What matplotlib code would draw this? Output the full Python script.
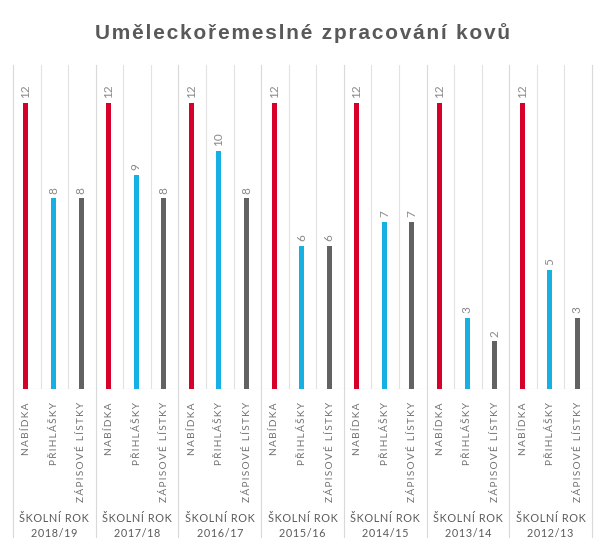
import matplotlib.pyplot as plt
import numpy as np

years = ["2018/19", "2017/18", "2016/17", "2015/16", "2014/15", "2013/14", "2012/13"]
series = ["NABÍDKA", "PŘIHLÁŠKY", "ZÁPISOVÉ LÍSTKY"]
nabidka = [12, 12, 12, 12, 12, 12, 12]
prihlasky = [8, 9, 10, 6, 7, 3, 5]
zapisove = [8, 8, 8, 6, 7, 2, 3]
colors = ["#d6002a", "#17b0e3", "#626262"]

def spaced(s, sp="\u200a"):
    return sp.join(s)

fig = plt.figure(figsize=(6.05, 5.53), dpi=100)
ax = fig.add_axes([13 / 605, 1 - 389 / 553, 579 / 605, 324 / 553])

n = len(years)
ymax = 13.6
ax.set_xlim(0, 3 * n)
ax.set_ylim(0, ymax)

for g in range(n):
    vals = [nabidka[g], prihlasky[g], zapisove[g]]
    for k in range(3):
        x = 3 * g + k + 0.47
        ax.bar(x, vals[k], width=0.18, color=colors[k], zorder=3)
        ax.text(x, vals[k] + 0.2, str(vals[k]), rotation=90, ha="center", va="bottom",
                fontsize=8.5, color="#888888", family="Lato")
        ax.text(x + 0.03, -0.55, spaced(series[k], "\u2009"), rotation=90, ha="center", va="top",
                fontsize=7.3, color="#707070", family="Lato")
    ax.text(3 * g + 1.5, -5.45, spaced("ŠKOLNÍ ROK"), ha="center", va="center",
            fontsize=7.8, color="#5a5a5a", family="Lato")
    ax.text(3 * g + 1.5, -6.08, spaced(years[g]), ha="center", va="center",
            fontsize=7.8, color="#5a5a5a", family="Lato")

for i in range(3 * n + 1):
    if i % 3 == 0:
        ax.plot([i, i], [ymax, -6.2], color="#d9d9d9", lw=0.8, clip_on=False, zorder=1)
    else:
        ax.plot([i, i], [0, ymax], color="#e2e2e2", lw=0.8, zorder=1)
ax.axhline(0, color="#d9d9d9", lw=0.8, zorder=2)

for s in ax.spines.values():
    s.set_visible(False)
ax.set_xticks([])
ax.set_yticks([])

fig.text(0.5, 1 - 33 / 553, spaced("Uměleckořemeslné zpracování kovů"),
         ha="center", va="center", fontsize=15, fontweight="bold", color="#595959",
         family="Liberation Sans")

fig.savefig("out.png", dpi=100)
